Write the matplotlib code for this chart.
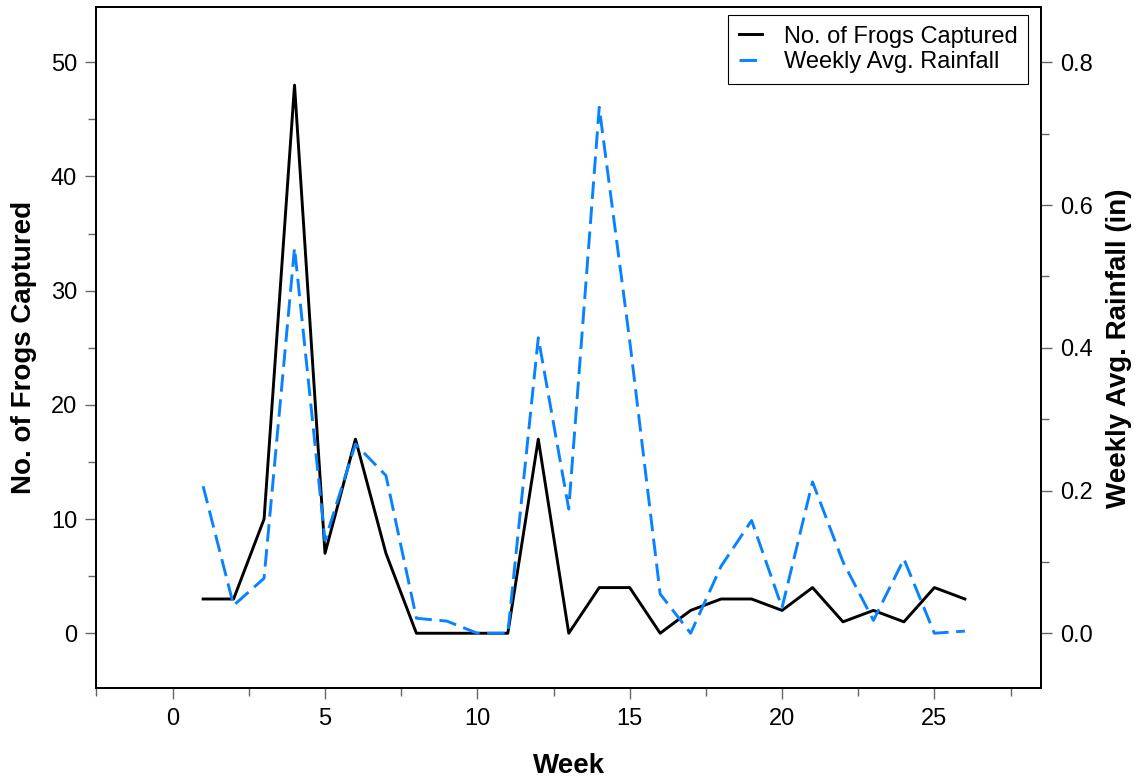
import numpy as np
from matplotlib import pyplot as plt
from matplotlib.ticker import MultipleLocator

plt.rcParams['font.family'] = ['Liberation Sans', 'DejaVu Sans']

# Weekly data
weeks = np.arange(1, 27)
frogs = [3, 3, 10, 48, 7, 17, 7, 0, 0, 0, 0, 17, 0, 4, 4, 0, 2, 3, 3, 2, 4, 1, 2, 1, 4, 3]
rain = [0.206, 0.039, 0.077, 0.540, 0.130, 0.265, 0.221, 0.021, 0.017, 0.0, 0.0,
        0.414, 0.174, 0.737, 0.41, 0.055, 0.0, 0.094, 0.158, 0.036, 0.212, 0.10,
        0.018, 0.104, 0.0, 0.003]

fig = plt.figure(figsize=(11.39, 7.81), dpi=100)
ax = fig.add_axes([0.0847, 0.119, 0.8293, 0.8714])
ax2 = ax.twinx()

l1, = ax.plot(weeks, frogs, color='black', lw=2.1, label='No. of Frogs Captured')
l2, = ax2.plot(weeks, rain, color='#0882FF', lw=2.1, dashes=(6, 2.6),
               label='Weekly Avg. Rainfall')

ax.set_xlim(-2.5, 28.5)
ax.set_ylim(-4.8, 54.8)
ax2.set_ylim(-4.8 / 62.5, 54.8 / 62.5)

ax.xaxis.set_major_locator(MultipleLocator(5))
ax.xaxis.set_minor_locator(MultipleLocator(2.5))
ax.yaxis.set_major_locator(MultipleLocator(10))
ax.yaxis.set_minor_locator(MultipleLocator(5))
ax2.yaxis.set_major_locator(MultipleLocator(0.2))
ax2.yaxis.set_minor_locator(MultipleLocator(0.1))
ax2.yaxis.set_major_formatter(lambda v, p: f'{v:.1f}')

for a in (ax, ax2):
    a.tick_params(which='major', length=8, width=1, color='#666666',
                  labelsize=17, pad=6)
    a.tick_params(which='minor', length=5.5, width=1, color='#666666')
    for s in a.spines.values():
        s.set_linewidth(1.3)

ax.set_xlabel('Week', fontsize=20, fontweight='bold', labelpad=17)
ax.set_ylabel('No. of Frogs Captured', fontsize=20, fontweight='bold', labelpad=10)
ax2.set_ylabel('Weekly Avg. Rainfall (in)', fontsize=20, fontweight='bold', labelpad=9)

leg = ax.legend(handles=[l1, l2], loc='upper right',
                bbox_to_anchor=(0.9862, 0.989), borderaxespad=0,
                fontsize=17, handlelength=1.0, handletextpad=0.9,
                fancybox=False, framealpha=1, borderpad=0.45,
                labelspacing=0.15)
leg.get_frame().set_edgecolor('black')
leg.get_frame().set_linewidth(0.8)

fig.savefig('out.png', dpi=100)
